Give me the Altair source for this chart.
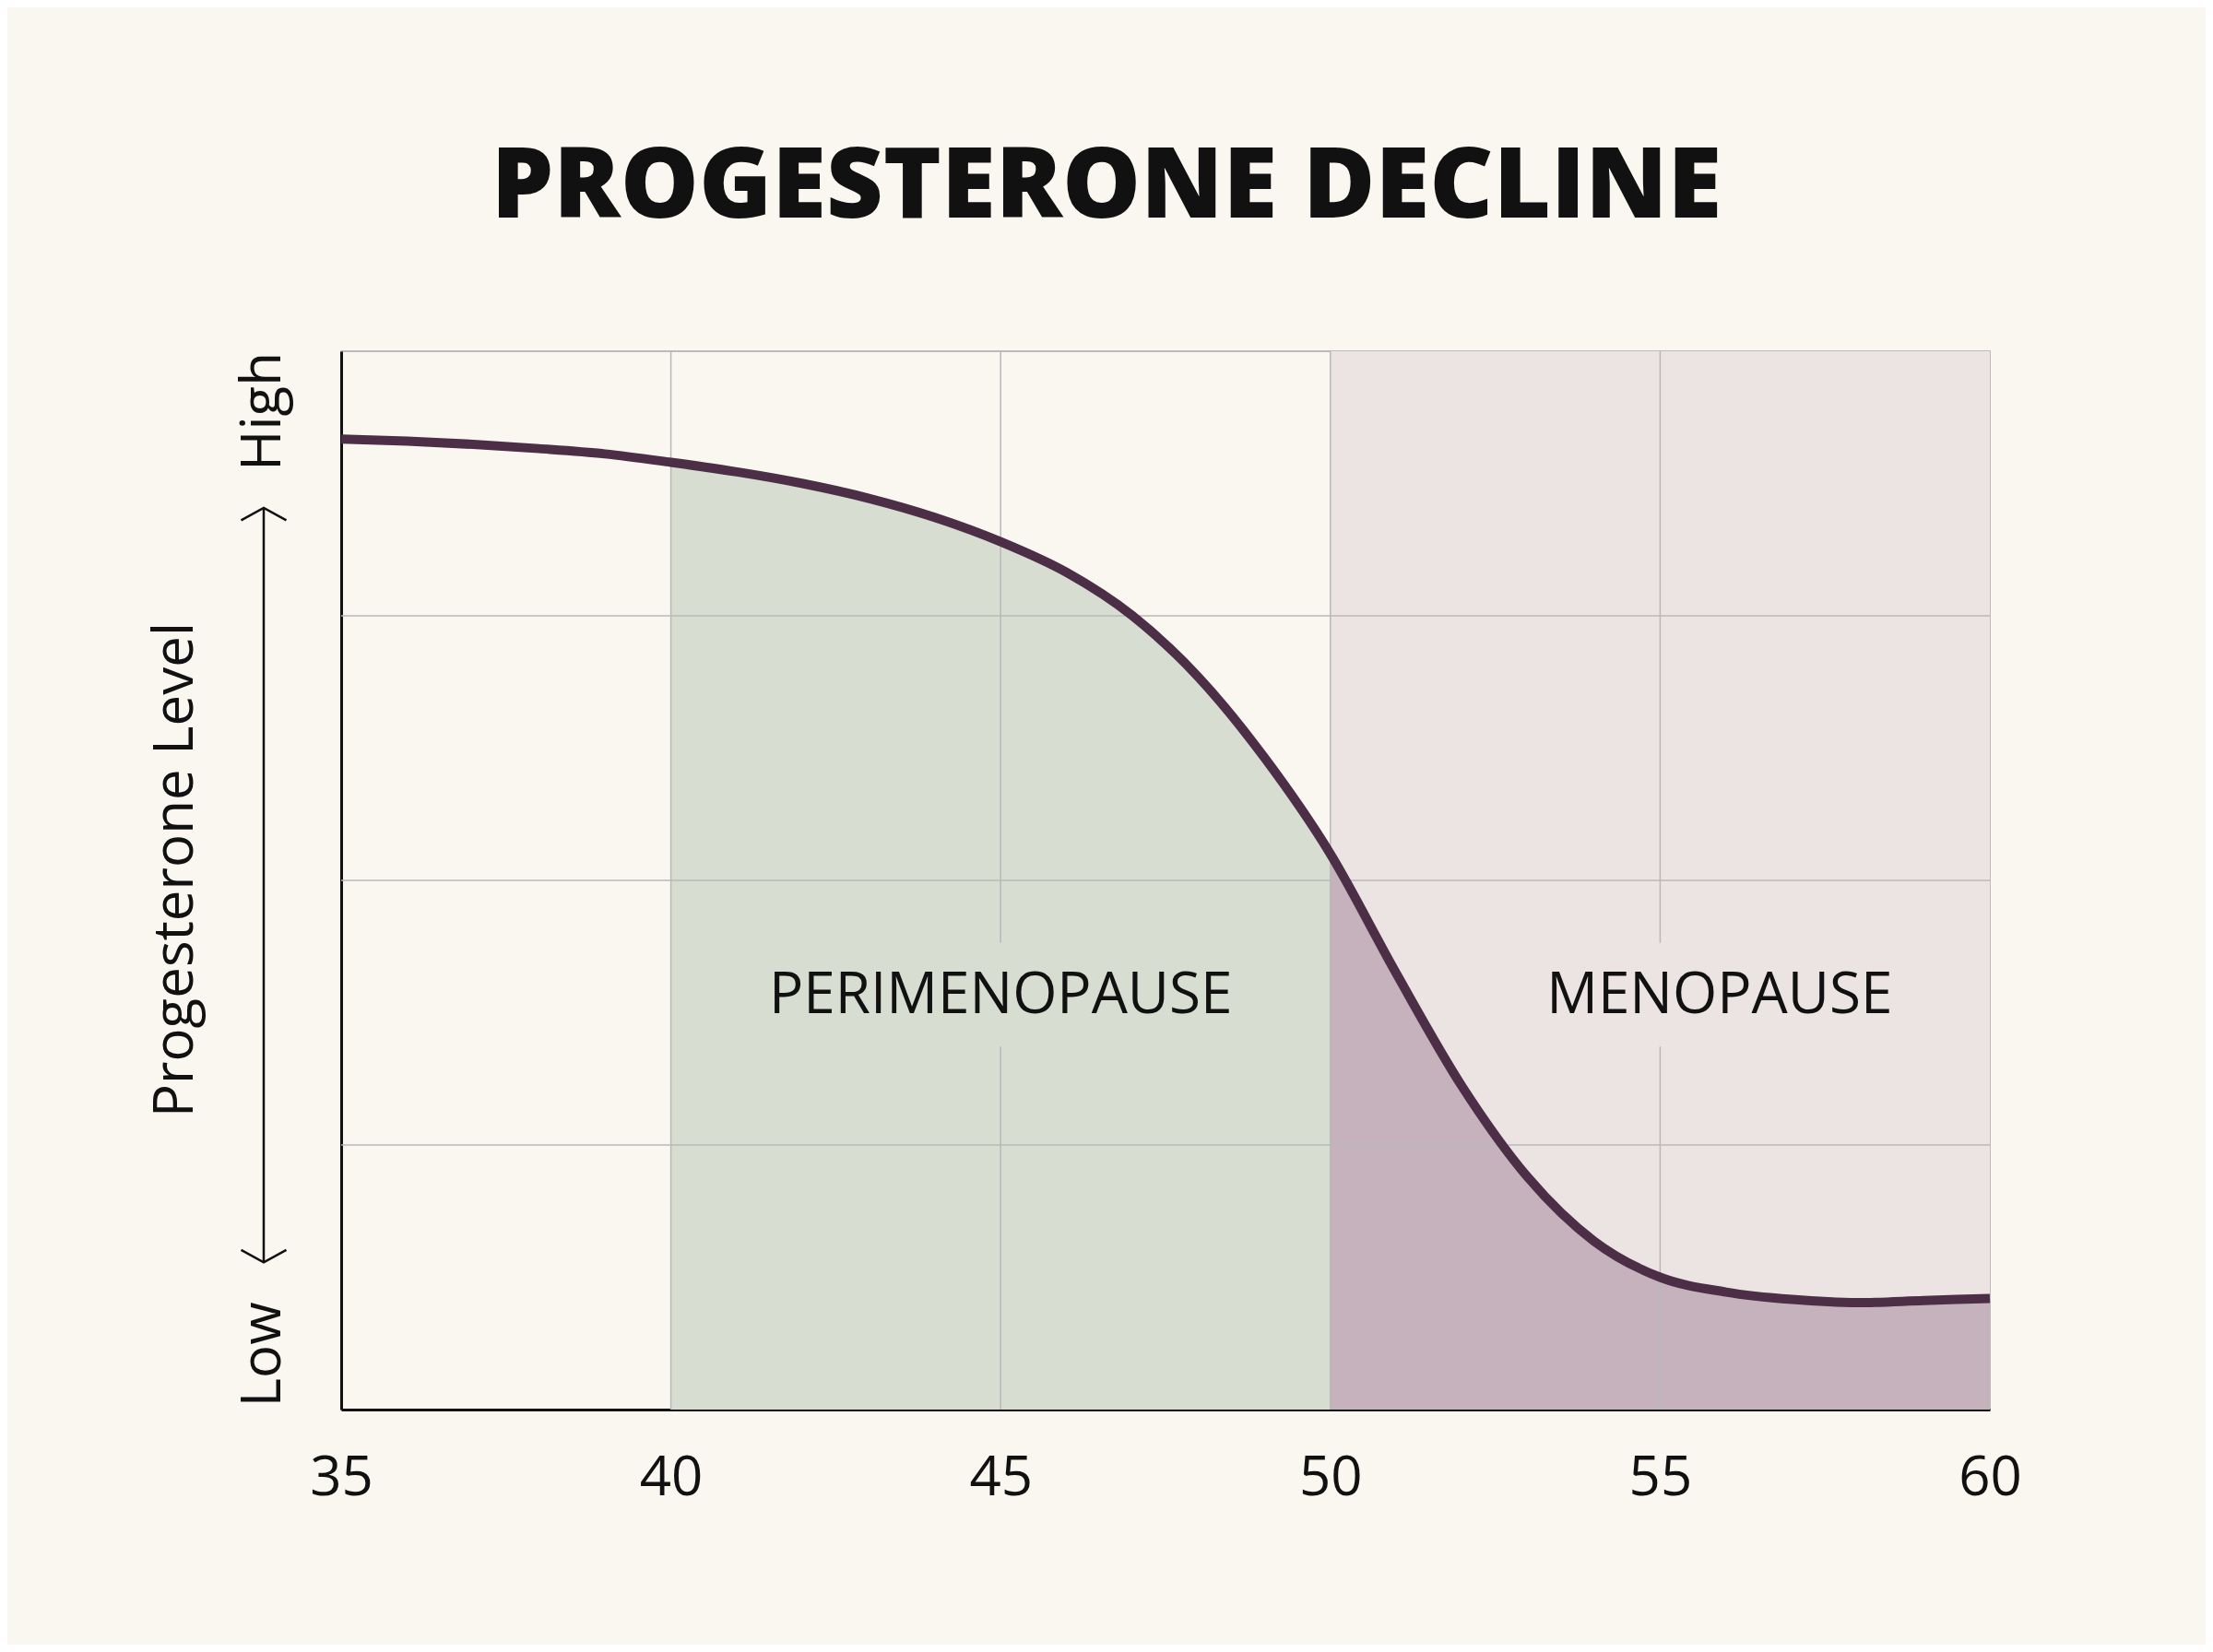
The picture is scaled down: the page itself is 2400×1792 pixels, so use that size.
"""Progesterone decline across perimenopause and menopause"""

import altair as alt
import pandas as pd

# curve (relative level, 0 = low, 100 = high)
ages = list(range(35, 61))
level = [91.7, 91.5, 91.2, 90.8, 90.3, 89.5, 88.6, 87.5, 86.1, 84.3,
         82.0, 79.1, 75.0, 69.2, 61.6, 52.5, 41.2, 30.5, 21.9, 15.9,
         12.5, 11.1, 10.4, 10.1, 10.3, 10.5]

phase_names = ["Perimenopause", "Menopause"]
phase_start = [40, 50]
phase_end = [50, 60]

label_text = ["PERIMENOPAUSE", "MENOPAUSE"]
label_age = [45.0, 55.9]
label_level = [39.1, 39.1]
# boxes behind the labels (they break the grid lines)
box_age0 = [41.5, 53.0]
box_age1 = [48.5, 58.7]
box_level0 = [34.3, 34.3]
box_level1 = [44.1, 44.1]

x_ticks = [35, 40, 45, 50, 55, 60]
x_grid = [40, 45, 50, 55]
y_grid = [25, 50, 75]

end_labels = ["High", "Low"]
end_label_level = [94.3, 5.2]
arrow_top = 85.2
arrow_bottom = 13.9

BG = "#f9f7f0"
GREEN = "#d7ddd0"
PINK = "#ece3e3"
MAUVE = "#c5b2bc"
LINE = "#4c2f47"
GRID = "#b8b8b8"
INK = "#111111"
FONT = "Open Sans"

curve = pd.DataFrame({"age": ages, "level": level})
phases = pd.DataFrame({"phase": phase_names, "start": phase_start, "end": phase_end})
labels = pd.DataFrame({"text": label_text, "age": label_age, "level": label_level})
boxes = pd.DataFrame({"a0": box_age0, "a1": box_age1, "l0": box_level0, "l1": box_level1,
                      "phase": phase_names})
xgrid = pd.DataFrame({"age": x_grid})
ygrid = pd.DataFrame({"level": y_grid})
ends = pd.DataFrame({"text": end_labels, "level": end_label_level})

x_scale = alt.Scale(domain=[35, 60], nice=False)
y_scale = alt.Scale(domain=[0, 100], nice=False)
x_axis = alt.Axis(values=x_ticks, title=None, grid=False, ticks=False, domainColor=INK,
                  domainWidth=3, labelFontSize=60, labelFont=FONT, labelColor=INK,
                  labelPadding=45, labelFlush=False)
y_axis = alt.Axis(title=None, grid=False, ticks=False, labels=False, domainColor=INK,
                  domainWidth=3)
phase_color = alt.Color("phase:N", scale=alt.Scale(domain=phase_names, range=[GREEN, PINK]),
                        legend=None)

menopause_bg = (
    alt.Chart(phases).transform_filter(alt.datum.phase == "Menopause")
    .mark_rect(color=PINK)
    .encode(x=alt.X("start:Q", scale=x_scale, axis=x_axis), x2="end:Q",
            y=alt.datum(0, scale=y_scale, axis=y_axis), y2=alt.datum(100))
)

green_area = (
    alt.Chart(curve).transform_filter((alt.datum.age >= 40) & (alt.datum.age <= 50))
    .mark_area(interpolate="monotone", color=GREEN)
    .encode(x=alt.X("age:Q", scale=x_scale, axis=x_axis),
            y=alt.Y("level:Q", scale=y_scale, axis=y_axis))
)

mauve_area = (
    alt.Chart(curve).transform_filter(alt.datum.age >= 50)
    .mark_area(interpolate="monotone", color=MAUVE)
    .encode(x=alt.X("age:Q", scale=x_scale, axis=x_axis),
            y=alt.Y("level:Q", scale=y_scale, axis=y_axis))
)

vrules = alt.Chart(xgrid).mark_rule(color=GRID, strokeWidth=1.5).encode(
    x=alt.X("age:Q", scale=x_scale, axis=x_axis))
hrules = alt.Chart(ygrid).mark_rule(color=GRID, strokeWidth=1.5).encode(
    y=alt.Y("level:Q", scale=y_scale, axis=y_axis))

label_boxes = alt.Chart(boxes).mark_rect().encode(
    x=alt.X("a0:Q", scale=x_scale, axis=x_axis), x2="a1:Q",
    y=alt.Y("l0:Q", scale=y_scale, axis=y_axis), y2="l1:Q",
    color=phase_color)

label_marks = alt.Chart(labels).mark_text(
    font=FONT, fontSize=62, color=INK, align="center", baseline="middle"
).encode(x=alt.X("age:Q", scale=x_scale, axis=x_axis),
         y=alt.Y("level:Q", scale=y_scale, axis=y_axis), text="text:N")

curve_line = alt.Chart(curve).mark_line(
    interpolate="monotone", color=LINE, strokeWidth=10, strokeCap="butt"
).encode(x=alt.X("age:Q", scale=x_scale, axis=x_axis),
         y=alt.Y("level:Q", scale=y_scale, axis=y_axis))

# y axis annotations: High / Low, arrow, and the axis name
end_marks = alt.Chart(ends).mark_text(
    font=FONT, fontSize=60, color=INK, angle=270, align="center", baseline="middle"
).encode(x=alt.value(-84), y=alt.Y("level:Q", scale=y_scale, axis=y_axis), text="text:N")

arrow_shaft = alt.Chart(pd.DataFrame({"top": [arrow_top], "bottom": [arrow_bottom]})).mark_rule(
    color=INK, strokeWidth=2.5
).encode(x=alt.value(-84), y=alt.Y("top:Q", scale=y_scale, axis=y_axis), y2="bottom:Q")

arrow_up = alt.Chart(pd.DataFrame({"level": [arrow_top]})).mark_point(
    shape="M -1 0.55 L 0 0 L 1 0.55", filled=False, color=INK, strokeWidth=2.5, size=2400,
    opacity=1
).encode(x=alt.value(-84), y=alt.Y("level:Q", scale=y_scale, axis=y_axis))

arrow_down = alt.Chart(pd.DataFrame({"level": [arrow_bottom]})).mark_point(
    shape="M -1 -0.55 L 0 0 L 1 -0.55", filled=False, color=INK, strokeWidth=2.5, size=2400,
    opacity=1
).encode(x=alt.value(-84), y=alt.Y("level:Q", scale=y_scale, axis=y_axis))

axis_name = alt.Chart(pd.DataFrame({"text": ["Progesterone Level"], "level": [51]})).mark_text(
    font=FONT, fontSize=60, color=INK, angle=270, align="center", baseline="middle"
).encode(x=alt.value(-179), y=alt.Y("level:Q", scale=y_scale, axis=y_axis), text="text:N")

chart = (
    alt.layer(menopause_bg, green_area, mauve_area, vrules, hrules, label_boxes, label_marks,
              curve_line, end_marks, arrow_shaft, arrow_up, arrow_down, axis_name)
    .properties(
        width=1788, height=1148,
        autosize=alt.AutoSizeParams(type="none"),
        padding={"left": 362, "top": 373, "right": 234, "bottom": 255},
        background=BG,
        title=alt.Title("PROGESTERONE DECLINE", font=FONT, fontSize=107, fontWeight=800,
                        color=INK, anchor="middle", dx=-64, offset=37,
                        baseline="alphabetic"),
    )
    .configure_view(stroke="#a8a8a8", strokeWidth=1.5)
)

chart.save("out.html", embed_options={"renderer": "svg", "actions": False})
